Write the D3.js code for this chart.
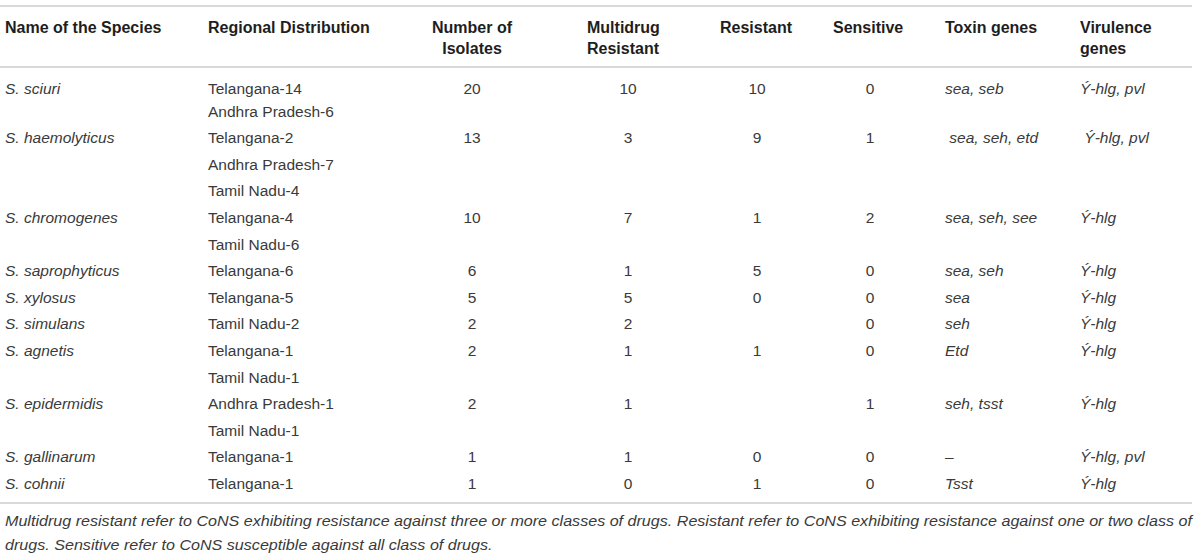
<!DOCTYPE html>
<html>
<head>
<meta charset="utf-8">
<script src="https://cdn.jsdelivr.net/npm/d3@7"></script>
<style>
  body { margin: 0; background: #fff; }
  svg text { font-family: "Liberation Sans", Arial, Helvetica, sans-serif; white-space: pre; }
</style>
</head>
<body>
<div class="canvas"></div>
<script>
// table content
const headers = [
  ["Name of the Species"],
  ["Regional Distribution"],
  ["Number of", "Isolates"],
  ["Multidrug", "Resistant"],
  ["Resistant"],
  ["Sensitive"],
  ["Toxin genes"],
  ["Virulence", "genes"]
];
const species = ["S. sciuri", "S. haemolyticus", "S. chromogenes", "S. saprophyticus", "S. xylosus",
  "S. simulans", "S. agnetis", "S. epidermidis", "S. gallinarum", "S. cohnii"];
const regions = [
  ["Telangana-14", "Andhra Pradesh-6"],
  ["Telangana-2", "Andhra Pradesh-7", "Tamil Nadu-4"],
  ["Telangana-4", "Tamil Nadu-6"],
  ["Telangana-6"],
  ["Telangana-5"],
  ["Tamil Nadu-2"],
  ["Telangana-1", "Tamil Nadu-1"],
  ["Andhra Pradesh-1", "Tamil Nadu-1"],
  ["Telangana-1"],
  ["Telangana-1"]
];
const isolates = [20, 13, 10, 6, 5, 2, 2, 2, 1, 1];
const multidrug = [10, 3, 7, 1, 5, 2, 1, 1, 1, 0];
const resistant = [10, 9, 1, 5, 0, null, 1, null, 0, 1];
const sensitive = [0, 1, 2, 0, 0, 0, 0, 1, 0, 0];
const toxin = ["sea, seb", " sea, seh, etd", "sea, seh, see", "sea, seh", "sea", "seh", "Etd", "seh, tsst", "\u2013", "Tsst"];
const virulence = ["\u00DD-hlg, pvl", " \u00DD-hlg, pvl", "\u00DD-hlg", "\u00DD-hlg", "\u00DD-hlg", "\u00DD-hlg",
  "\u00DD-hlg", "\u00DD-hlg", "\u00DD-hlg, pvl", "\u00DD-hlg"];
const footnote = [
  "Multidrug resistant refer to CoNS exhibiting resistance against three or more classes of drugs. Resistant refer to CoNS exhibiting resistance against one or two class of",
  "drugs. Sensitive refer to CoNS susceptible against all class of drugs."
];

const width = 1200, height = 555;
const ruleRight = 1192;

const svg = d3.select(".canvas")
  .append("svg")
  .attr("width", width)
  .attr("height", height);

// column positions
const cols = ["name", "region", "isolates", "multidrug", "resistant", "sensitive", "toxin", "virulence"];
const headX = d3.scaleOrdinal().domain(cols).range([5, 208, 472, 587, 720, 833, 945, 1080]);
const headAnchor = d3.scaleOrdinal().domain(cols).range(["start", "start", "middle", "start", "start", "start", "start", "start"]);
const cellX = d3.scaleOrdinal().domain(cols).range([5, 208, 472, 628, 757, 870, 945, 1080]);
const cellAnchor = d3.scaleOrdinal().domain(cols).range(["start", "start", "middle", "middle", "middle", "middle", "start", "start"]);

// line slots: each region line takes one slot
let slot = 0;
const rows = species.map((s, i) => {
  const r = {
    i, start: slot,
    cells: {
      name: s, isolates: isolates[i], multidrug: multidrug[i], resistant: resistant[i],
      sensitive: sensitive[i], toxin: toxin[i], virulence: virulence[i]
    }
  };
  slot += regions[i].length;
  return r;
});
const nSlots = slot;
const y = d3.scaleLinear().domain([1, nSlots - 1]).range([111, 483.4]);
const firstNudge = 3.6;
const slotY = k => y(k) + (k === 0 ? firstNudge : 0);
const base = 5.5;

// rules
const rules = [6, 67, 503];
svg.append("g")
  .selectAll("line")
  .data(rules)
  .join("line")
  .attr("x1", 0)
  .attr("x2", ruleRight)
  .attr("y1", d => d)
  .attr("y2", d => d)
  .attr("stroke", "#d9d9d9")
  .attr("stroke-width", 2);

// header
const head = svg.append("g");
headers.forEach((h, c) => {
  head.append("text")
    .attr("x", headX(cols[c]))
    .attr("text-anchor", headAnchor(cols[c]))
    .attr("font-size", 16)
    .attr("font-weight", "bold")
    .attr("fill", "#1e1e1e")
    .selectAll("tspan")
    .data(h)
    .join("tspan")
    .attr("x", headX(cols[c]))
    .attr("y", (d, j) => 32.7 + j * 21)
    .text(d => d);
});

// body
const body = svg.append("g")
  .attr("font-size", 15.5)
  .attr("fill", "#3a3a3a");

rows.forEach(r => {
  const ty = slotY(r.start) + base;
  Object.entries(r.cells).forEach(([k, v]) => {
    if (v === null || v === undefined) return;
    body.append("text")
      .attr("x", cellX(k))
      .attr("y", ty)
      .attr("text-anchor", cellAnchor(k))
      .attr("font-style", (k === "name" || k === "toxin" || k === "virulence") ? "italic" : null)
      .text(v);
  });
  body.selectAll(null)
    .data(regions[r.i])
    .join("text")
    .attr("x", cellX("region"))
    .attr("y", (d, j) => slotY(r.start + j) + base)
    .text(d => d);
});

// footnote
const foot = svg.append("g")
  .attr("font-size", 15)
  .attr("font-style", "italic")
  .attr("fill", "#3a3a3a");
const fLines = foot.selectAll("text")
  .data(footnote)
  .join("text")
  .attr("x", 5)
  .attr("y", (d, j) => 526 + j * 23.5)
  .text(d => d);
const target = ruleRight - 5;
const natural = fLines.nodes()[0].getComputedTextLength();
const k = target / natural;
fLines.each(function () {
  const w = this.getComputedTextLength();
  d3.select(this).attr("textLength", w * k).attr("lengthAdjust", "spacingAndGlyphs");
});
</script>
</body>
</html>
